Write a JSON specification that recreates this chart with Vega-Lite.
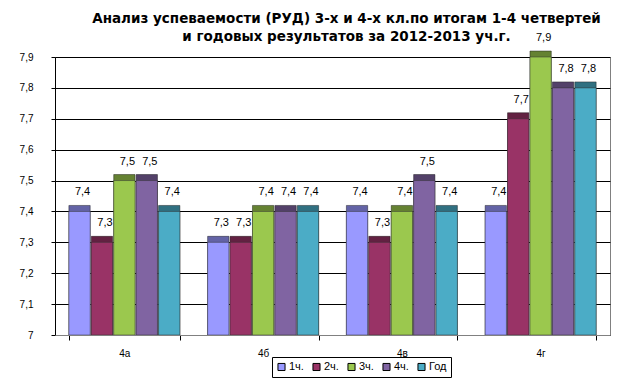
{
  "$schema": "https://vega.github.io/schema/vega-lite/v6.json",
  "width": 555,
  "height": 278,
  "autosize": "none",
  "padding": {"left": 55, "top": 57, "right": 29, "bottom": 45},
  "background": "white",
  "title": {
    "text": ["Анализ успеваемости (РУД) 3-х и 4-х кл.по итогам 1-4 четвертей", "и годовых результатов за 2012-2013 уч.г."],
    "anchor": "middle",
    "dx": 14,
    "offset": -11,
    "font": "DejaVu Sans",
    "fontSize": 13.5,
    "fontWeight": "bold",
    "lineHeight": 18,
    "color": "black"
  },
  "data": {
    "values": [
      {"group": "4а", "series": "1ч.", "value": 7.4},
      {"group": "4а", "series": "2ч.", "value": 7.3},
      {"group": "4а", "series": "3ч.", "value": 7.5},
      {"group": "4а", "series": "4ч.", "value": 7.5},
      {"group": "4а", "series": "Год", "value": 7.4},
      {"group": "4б", "series": "1ч.", "value": 7.3},
      {"group": "4б", "series": "2ч.", "value": 7.3},
      {"group": "4б", "series": "3ч.", "value": 7.4},
      {"group": "4б", "series": "4ч.", "value": 7.4},
      {"group": "4б", "series": "Год", "value": 7.4},
      {"group": "4в", "series": "1ч.", "value": 7.4},
      {"group": "4в", "series": "2ч.", "value": 7.3},
      {"group": "4в", "series": "3ч.", "value": 7.4},
      {"group": "4в", "series": "4ч.", "value": 7.5},
      {"group": "4в", "series": "Год", "value": 7.4},
      {"group": "4г", "series": "1ч.", "value": 7.4},
      {"group": "4г", "series": "2ч.", "value": 7.7},
      {"group": "4г", "series": "3ч.", "value": 7.9},
      {"group": "4г", "series": "4ч.", "value": 7.8},
      {"group": "4г", "series": "Год", "value": 7.8}
    ]
  },
  "encoding": {
    "x": {
      "field": "group", "type": "nominal", "sort": null,
      "scale": {"paddingInner": 0.2, "paddingOuter": 0.1},
      "axis": {"title": null, "labelAngle": 0, "labelFont": "Liberation Sans", "labelFontSize": 10, "labelColor": "black", "labelPadding": 8, "domainColor": "#808080", "tickColor": "black", "tickBand": "extent", "tickSize": 5, "zindex": 1}
    },
    "xOffset": {"field": "series", "type": "nominal", "sort": null, "scale": {"paddingInner": 0.05}},
    "y": {
      "field": "value", "type": "quantitative",
      "scale": {"domain": [7, 7.9], "zero": false, "nice": false},
      "axis": {"title": null, "values": [7, 7.1, 7.2, 7.3, 7.4, 7.5, 7.6, 7.7, 7.8, 7.9], "format": ".1~f", "labelFont": "Liberation Sans", "labelFontSize": 10, "labelColor": "black", "labelPadding": 18, "tickSize": 4, "tickColor": "black", "domainColor": "black", "gridColor": "black", "gridWidth": 1}
    },
    "y2": {"datum": 7},
    "color": {
      "field": "series", "type": "nominal", "sort": null,
      "scale": {"domain": ["1ч.", "2ч.", "3ч.", "4ч.", "Год"], "range": ["#9999FF", "#993366", "#9BC84E", "#8064A2", "#4BACC6"]},
      "legend": {
        "title": null, "orient": "none", "direction": "horizontal", "legendX": 217, "legendY": 300,
        "symbolType": "square", "symbolSize": 50, "symbolStrokeColor": "black", "symbolStrokeWidth": 1,
        "labelFont": "Liberation Sans", "labelFontSize": 11, "labelColor": "black",
        "columnPadding": 6, "labelOffset": 2, "padding": 4, "strokeColor": "black", "fillColor": "white"
      }
    }
  },
  "layer": [
    {"mark": {"type": "bar", "xOffset": 5, "yOffset": -6, "stroke": "#333", "strokeWidth": 0.5}},
    {"mark": {"type": "bar", "xOffset": 5, "yOffset": -6, "color": "black", "opacity": 0.35}, "encoding": {"color": {"value": "black"}}},
    {"mark": {"type": "bar", "stroke": "#333", "strokeWidth": 0.5}},
    {
      "mark": {"type": "text", "baseline": "bottom", "dx": 3, "dy": -14, "font": "Liberation Sans", "fontSize": 11, "color": "black"},
      "encoding": {"y2": null, "text": {"field": "value", "type": "quantitative", "format": ".1~f"}, "color": {"value": "black"}}
    }
  ],
  "config": {
    "locale": {"number": {"decimal": ",", "thousands": " ", "grouping": [3], "currency": ["", ""]}},
    "view": {"stroke": "#808080"},
    "axis": {"gridColor": "black"}
  }
}
